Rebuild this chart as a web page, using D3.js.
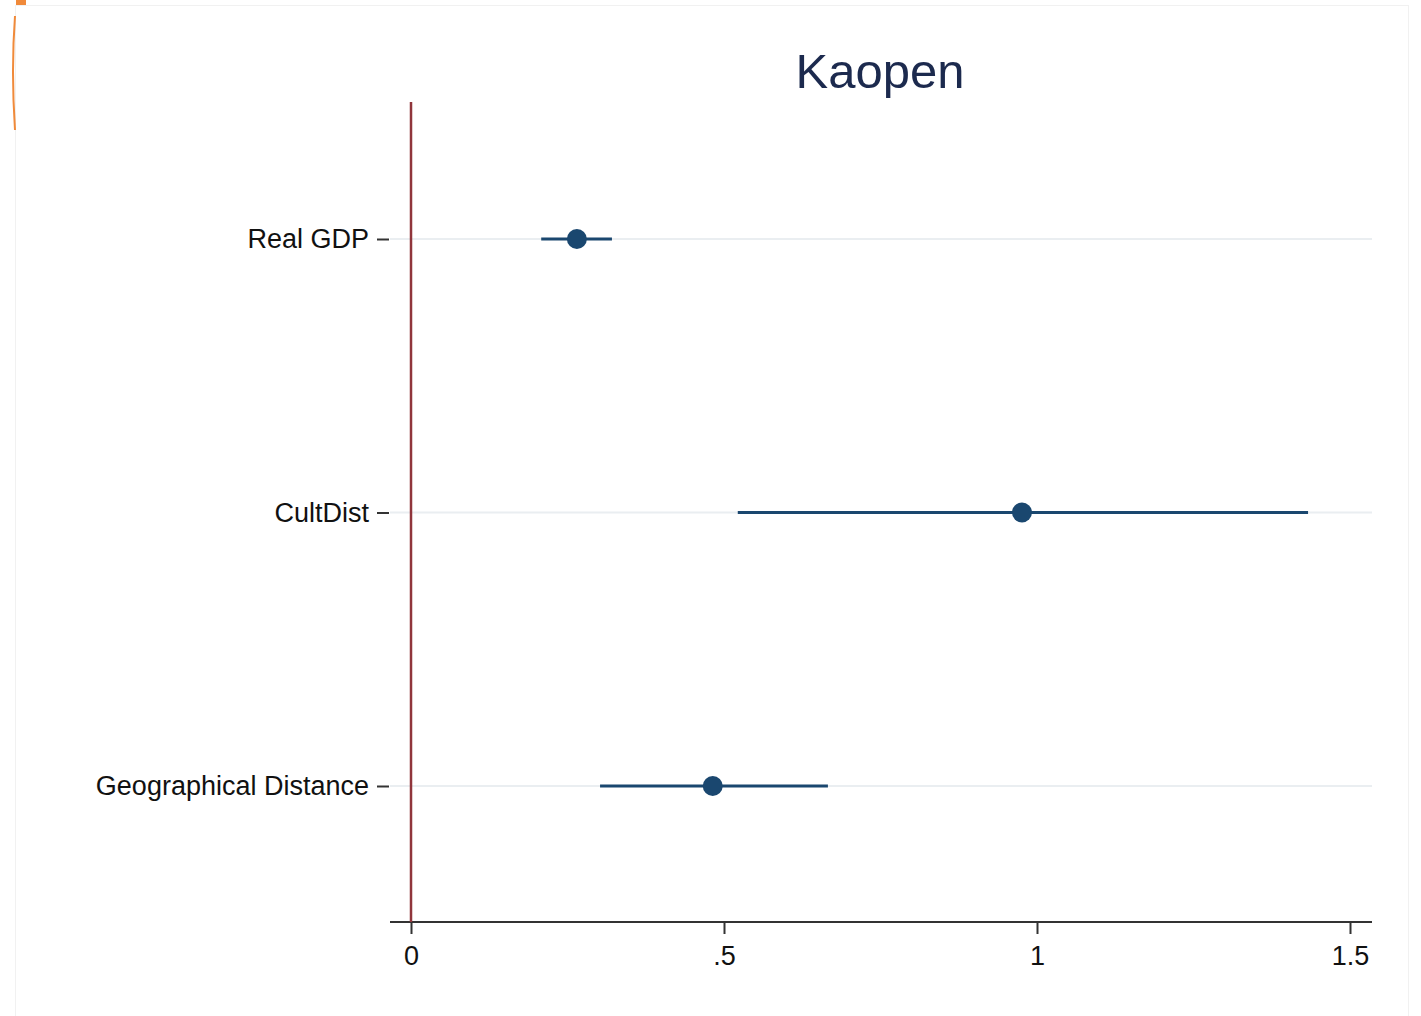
<!DOCTYPE html>
<html>
<head>
<meta charset="utf-8">
<script src="https://cdn.jsdelivr.net/npm/d3@7"></script>
<style>
  html, body { margin: 0; padding: 0; background: #fff; }
  svg { display: block; }
</style>
</head>
<body>
<div id="chart"></div>
<script>
const categories = ["Real GDP", "CultDist", "Geographical Distance"];
const estimates = [0.265, 0.976, 0.482];
const lower = [0.208, 0.522, 0.302];
const upper = [0.321, 1.433, 0.666];
const xTicks = [0, 0.5, 1, 1.5];
const xTickLabels = ["0", ".5", "1", "1.5"];

const W = 1421, H = 1016;
const navy = "#1a476f";
const maroon = "#90353b";
const font = "'Liberation Sans', Arial, sans-serif";

const svg = d3.select("#chart").append("svg")
    .attr("width", W)
    .attr("height", H);

// faint frame of the screenshot
svg.append("rect")
    .attr("x", 15.5).attr("y", 5.5)
    .attr("width", 1393).attr("height", 1020)
    .attr("fill", "none")
    .attr("stroke", "#f1f1f1");

// orange bits at the top left corner
svg.append("rect")
    .attr("x", 16).attr("y", 0)
    .attr("width", 10).attr("height", 5)
    .attr("fill", "#f08a3a");
svg.append("path")
    .attr("d", "M15,16 Q11,70 15,130")
    .attr("fill", "none")
    .attr("stroke", "#f08a3a")
    .attr("stroke-width", 2);

const x = d3.scaleLinear()
    .domain([0, 1.5])
    .range([411, 1350]);

const y = d3.scalePoint()
    .domain(categories)
    .range([239, 786]);

// grid lines
svg.append("g")
    .selectAll("line")
    .data(categories)
    .join("line")
    .attr("x1", 390).attr("x2", 1372)
    .attr("y1", d => y(d)).attr("y2", d => y(d))
    .attr("stroke", "#eaeef1")
    .attr("stroke-width", 2);

// x axis
const xAxis = svg.append("g")
    .attr("transform", "translate(0,922)")
    .call(d3.axisBottom(x)
        .tickValues(xTicks)
        .tickFormat((d, i) => xTickLabels[i])
        .tickSizeInner(12)
        .tickSizeOuter(0)
        .tickPadding(12));
xAxis.select(".domain").remove();
xAxis.append("line")
    .attr("x1", 390).attr("x2", 1372)
    .attr("stroke", "#333").attr("stroke-width", 2);
xAxis.selectAll(".tick line").attr("stroke", "#333").attr("stroke-width", 2);
xAxis.selectAll(".tick text")
    .attr("fill", "#111")
    .style("font-family", font)
    .style("font-size", "27px");

// y axis labels with short ticks
const yAxis = svg.append("g")
    .attr("transform", "translate(389,0)")
    .call(d3.axisLeft(y).tickSizeInner(12).tickSizeOuter(0).tickPadding(8));
yAxis.select(".domain").remove();
yAxis.selectAll(".tick line").attr("stroke", "#333").attr("stroke-width", 2);
yAxis.selectAll(".tick text")
    .attr("fill", "#111")
    .style("font-family", font)
    .style("font-size", "27px");

// reference line at zero
svg.append("line")
    .attr("x1", x(0)).attr("x2", x(0))
    .attr("y1", 102).attr("y2", 922)
    .attr("stroke", maroon)
    .attr("stroke-width", 2.5);

// confidence intervals
svg.append("g")
    .selectAll("line")
    .data(categories)
    .join("line")
    .attr("x1", (d, i) => x(lower[i]))
    .attr("x2", (d, i) => x(upper[i]))
    .attr("y1", d => y(d)).attr("y2", d => y(d))
    .attr("stroke", navy)
    .attr("stroke-width", 3);

// point estimates
svg.append("g")
    .selectAll("circle")
    .data(categories)
    .join("circle")
    .attr("cx", (d, i) => x(estimates[i]))
    .attr("cy", d => y(d))
    .attr("r", 10)
    .attr("fill", navy);

// title
svg.append("text")
    .attr("x", 880).attr("y", 88)
    .attr("text-anchor", "middle")
    .attr("fill", "#1c2a4e")
    .style("font-family", font)
    .style("font-size", "49px")
    .text("Kaopen");
</script>
</body>
</html>
